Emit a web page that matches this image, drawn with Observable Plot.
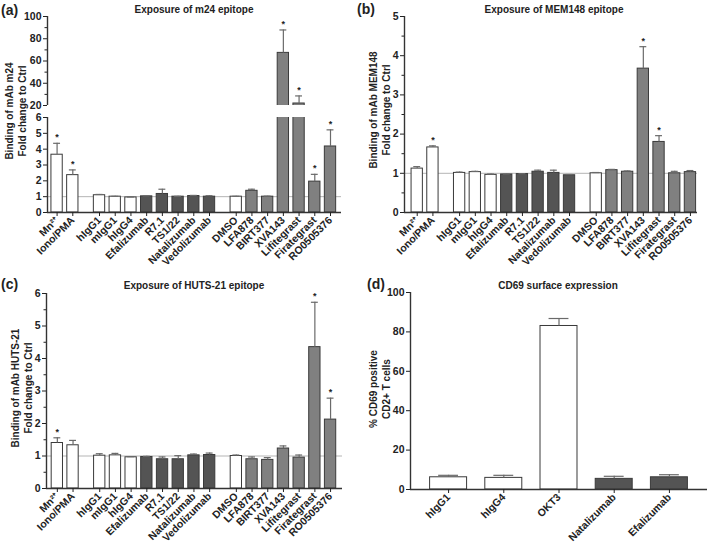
<!DOCTYPE html>
<html><head><meta charset="utf-8">
<script src="https://cdn.jsdelivr.net/npm/d3@7"></script>
<script src="https://cdn.jsdelivr.net/npm/@observablehq/plot@0.6"></script>
<style>
body{margin:0;background:#fff;}
#root{position:relative;width:709px;height:544px;overflow:hidden;background:#fff;font-family:"Liberation Sans",Arial,sans-serif;font-weight:bold;color:#222;}
.chart{position:absolute;}
.t{position:absolute;transform:translate(-50%,-50%);white-space:nowrap;font-size:10px;}
.pl{position:absolute;transform:translate(0,-50%);font-size:14px;}
.yl{position:absolute;transform:translate(-50%,-50%) rotate(-90deg);white-space:pre;text-align:center;font-size:10px;line-height:12.5px;}
</style></head><body><div id="root"></div>
<script>
// ---- data ----
const treatments = ["Mn²⁺","Iono/PMA","hIgG1","mIgG1","hIgG4","Efalizumab","R7.1","TS1/22","Natalizumab","Vedolizumab","DMSO","LFA878","BIRT377","XVA143","Lifitegrast","Firategrast","RO0505376"];
const blocks = [0,0,1,1,1,1,1,1,1,1,2,2,2,2,2,2,2];
const kinds = ["ctrl","ctrl","ctrl","ctrl","ctrl","mab","mab","mab","mab","mab","ctrl","sm","sm","sm","sm","sm","sm"];

const m24Mean = [3.65,2.36,1.09,1.0,0.95,1.02,1.17,1.0,1.04,1.0,1.0,1.37,1.0,67.3,21.8,1.95,4.17];
const m24Sem  = [0.72,0.33,0.05,0.02,0.03,0.03,0.30,0.02,0.04,0.06,0.02,0.10,0.03,20.6,6.8,0.46,1.05];
const m24Sig  = ["Mn²⁺","Iono/PMA","XVA143","Lifitegrast","Firategrast","RO0505376"];

const mem148Mean = [1.12,1.66,1.01,1.03,0.96,0.97,0.98,1.04,1.01,0.95,1.0,1.08,1.04,3.67,1.80,1.0,1.03];
const mem148Sem  = [0.05,0.04,0.02,0.02,0.02,0.01,0.01,0.04,0.07,0.02,0.02,0.02,0.02,0.56,0.16,0.05,0.04];
const mem148Sig  = ["Iono/PMA","XVA143","Lifitegrast"];

const huts21Mean = [1.40,1.33,1.01,1.02,0.96,0.97,0.90,0.90,1.02,1.03,1.0,0.90,0.88,1.23,0.95,4.35,2.12];
const huts21Sem  = [0.16,0.15,0.06,0.06,0.02,0.02,0.07,0.11,0.04,0.06,0.03,0.07,0.07,0.08,0.08,1.38,0.66];
const huts21Sig  = ["Mn²⁺","Firategrast","RO0505376"];

const cd69Cats = ["hIgG1","hIgG4","OKT3","Natalizumab","Efalizumab"];
const cd69Kinds = ["ctrl","ctrl","ctrl","mab","mab"];
const cd69Mean = [6.2,5.9,83,5.4,6.2];
const cd69Sem  = [1.0,1.3,3.8,1.3,1.3];

// ---- styles ----
const fills = {ctrl:"#ffffff", mab:"#545454", sm:"#808080"};
const ERR = "#6a6a6a", AX = "#333333", OUT = "#3a3a3a";
const baseStyle = {fontFamily:'"Liberation Sans",Arial,sans-serif', fontWeight:"bold", color:"#222", background:"transparent", overflow:"visible"};
const intFmt = d3.format("d");

const root = document.getElementById("root");
function place(el, left, top){ el.classList.add("chart"); el.style.left = left+"px"; el.style.top = top+"px"; root.appendChild(el); }
function txt(cls, s, x, y){ const d=document.createElement("div"); d.className=cls; d.textContent=s; d.style.left=x+"px"; d.style.top=y+"px"; root.appendChild(d); }

function barChart(o){
  const rows = o.names.map((name,i)=>({name, pos: o.posOf(i), fill: fills[o.kinds[i]], mean:o.means[i], top:o.means[i]+o.sems[i], sig:o.sig.includes(name)}));
  const nameByPos = new Map(rows.map(d=>[d.pos,d.name]));
  const [y0,y1] = o.yDomain;
  const hw = o.halfBar, cw = o.halfCap;
  const marks = [];
  if (o.ref) marks.push(Plot.ruleY([1],{stroke:"#b5b5b5",strokeWidth:1}));
  marks.push(Plot.rectY(rows,{x1:d=>d.pos-hw,x2:d=>d.pos+hw,y1:()=>0,y2:"mean",fill:"fill",stroke:OUT,strokeWidth:1,clip:true}));
  marks.push(Plot.ruleX(rows,{x:"pos",y1:"mean",y2:"top",stroke:ERR,strokeWidth:1.2,clip:true}));
  marks.push(Plot.ruleY(rows,{y:"top",x1:d=>d.pos-cw,x2:d=>d.pos+cw,stroke:ERR,strokeWidth:1.2,clip:true}));
  marks.push(Plot.text(rows.filter(d=>d.sig && d.top>=y0 && d.top<=y1),{x:"pos",y:"top",text:()=>"*",dy:-6,fontSize:9,fill:"#222"}));
  marks.push(Plot.ruleX([o.xDomain[0]],{stroke:AX,strokeWidth:1.4}));
  if (o.showX) marks.push(Plot.ruleY([y0],{stroke:AX,strokeWidth:1.4}));
  marks.push(Plot.axisY({ticks:o.yTicks,tickFormat:intFmt,tickSize:4,tickPadding:2,fontSize:10.5,fontWeight:"bold",label:null}));
  if (o.minor) marks.push(Plot.axisY({ticks:o.minor,tickSize:2.5,tickFormat:()=>"",label:null}));
  if (o.showX) marks.push(Plot.axisX({ticks:rows.map(d=>d.pos),tickFormat:p=>nameByPos.get(p),tickRotate:-45,tickSize:4,tickPadding:2,fontSize:10.5,fontWeight:"bold",label:null}));
  return Plot.plot({
    width:o.width, height:o.height,
    marginTop:o.mt, marginRight:o.mr, marginBottom:o.mb, marginLeft:o.ml,
    x:{type:"linear",domain:o.xDomain,axis:null},
    y:{domain:o.yDomain,axis:null},
    color:{type:"identity"},
    style:baseStyle,
    marks
  });
}

const epi = {names:treatments, kinds, posOf:i=>i + blocks[i]*0.7, halfBar:0.36, halfCap:0.22};

// (a) broken axis: upper and lower segments
place(barChart({...epi,means:m24Mean,sems:m24Sem,sig:m24Sig,yDomain:[20,100],yTicks:[20,40,60,80,100],minor:[30,50,70,90],
  width:355,height:110,mt:16,mr:14,mb:5,ml:47,xDomain:[-0.61,18.1],showX:false,ref:false}),0,0);
place(barChart({...epi,means:m24Mean,sems:m24Sem,sig:m24Sig,yDomain:[0,6],yTicks:[0,1,2,3,4,5,6],
  width:355,height:175,mt:17,mr:14,mb:63,ml:47,xDomain:[-0.61,18.1],showX:true,ref:true}),0,100);

// (b)
place(barChart({...epi,means:mem148Mean,sems:mem148Sem,sig:mem148Sig,yDomain:[0,5],yTicks:[0,1,2,3,4,5],minor:[0.5,1.5,2.5,3.5,4.5],
  width:354,height:275,mt:16,mr:12,mb:63,ml:49,xDomain:[-0.81,17.85],showX:true,ref:true}),355,0);

// (c)
place(barChart({...epi,means:huts21Mean,sems:huts21Sem,sig:huts21Sig,yDomain:[0,6],yTicks:[0,1,2,3,4,5,6],minor:[0.5,1.5,2.5,3.5,4.5,5.5],
  width:355,height:268,mt:17,mr:13,mb:56,ml:46,xDomain:[-0.69,18.16],showX:true,ref:true}),0,276);

// (d)
place(barChart({names:cd69Cats,kinds:cd69Kinds,posOf:i=>i,halfBar:0.335,halfCap:0.18,
  means:cd69Mean,sems:cd69Sem,sig:[],yDomain:[0,100],yTicks:[0,20,40,60,80,100],
  width:354,height:268,mt:16,mr:2,mb:55,ml:55,xDomain:[-0.69,4.69],showX:true,ref:false}),355,276);

// ---- overlay text ----
txt("t","Exposure of m24 epitope",194,8.5);
txt("t","Exposure of MEM148 epitope",554,8.5);
txt("t","Exposure of HUTS-21 epitope",194,284.5);
txt("t","CD69 surface expression",558,285);
txt("pl","(a)",1,9.5);
txt("pl","(b)",357,9);
txt("pl","(c)",1,284);
txt("pl","(d)",367,284);
txt("yl","Binding of mAb m24\nFold change to Ctrl",15.5,111);
txt("yl","Binding of mAb MEM148\nFold change to Ctrl",380,110);
txt("yl","Binding of mAb HUTS-21\nFold change to Ctrl",22,388);
txt("yl","% CD69 positive\nCD2+ T cells",380,389);
</script>
</body></html>
